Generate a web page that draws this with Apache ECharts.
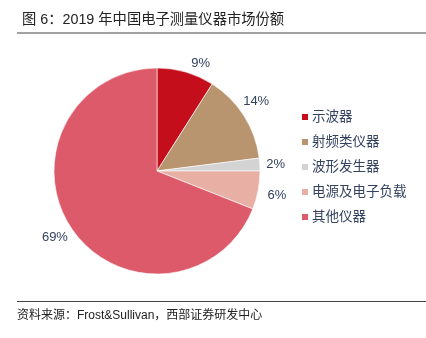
<!DOCTYPE html>
<html>
<head>
<meta charset="utf-8">
<script src="https://cdn.jsdelivr.net/npm/echarts@6/dist/echarts.min.js"></script>
<style>
  html, body { margin: 0; padding: 0; background: #fff; }
  #chart { width: 426px; height: 338px; }
</style>
</head>
<body>
<div id="chart"></div>
<script>
// 2019 market share of electronic measurement instruments in China
const categories = ['示波器', '射频类仪器', '波形发生器', '电源及电子负载', '其他仪器'];
const shares = [9, 14, 2, 6, 69];
const sliceColors = ['#c40e1c', '#b9956f', '#d3d3d3', '#e8b0a5', '#dc5a6a'];
// small per-slice shifts of the percentage labels, in px
const labelNudge = [[10, 9], [-3, -5], [-2, 1], [1, 2], [-2, -2]];

const titleText = '图 6：2019 年中国电子测量仪器市场份额';
const sourceText = '资料来源：Frost&Sullivan，西部证券研发中心';

const FONT = '"Liberation Sans", Arial, "Noto Sans CJK SC", sans-serif';
const LABEL_COLOR = '#34425f';

const pieData = categories.map((name, i) => ({ name, value: shares[i] }));
const labelData = pieData.map((d, i) => ({
  name: d.name,
  value: d.value,
  label: { offset: labelNudge[i] }
}));

const chart = echarts.init(document.getElementById('chart'), null, { renderer: 'canvas' });

chart.setOption({
  animation: false,
  color: sliceColors,
  title: {
    text: titleText,
    left: 17,
    top: 8,
    textStyle: { fontFamily: FONT, fontSize: 14.3, fontWeight: 'normal', color: '#222' }
  },
  legend: {
    orient: 'vertical',
    left: 295,
    top: 105,
    itemWidth: 8,
    itemHeight: 8,
    itemGap: 11,
    icon: 'rect',
    data: categories,
    textStyle: { fontFamily: FONT, fontSize: 13.5, color: LABEL_COLOR, lineHeight: 14, padding: [0, 0, 0, -2] }
  },
  graphic: [
    { type: 'line', shape: { x1: 17, y1: 33, x2: 426, y2: 33 }, style: { stroke: '#444', lineWidth: 1 } },
    { type: 'line', shape: { x1: 17, y1: 301.5, x2: 426, y2: 301.5 }, style: { stroke: '#444', lineWidth: 1 } },
    {
      type: 'text', left: 17, top: 310,
      style: { text: sourceText, font: '12px ' + FONT, fill: '#222' }
    }
  ],
  series: [
    {
      // the slices
      type: 'pie',
      center: [157, 171],
      radius: [0, 103],
      startAngle: 90,
      clockwise: true,
      label: { show: false },
      labelLine: { show: false },
      itemStyle: { borderColor: '#fff', borderWidth: 0.6 },
      data: pieData
    },
    {
      // invisible ring whose inside labels carry the percentages
      type: 'pie',
      center: [157, 171],
      radius: [106, 130],
      startAngle: 90,
      clockwise: true,
      silent: true,
      itemStyle: { color: 'rgba(0,0,0,0)' },
      emphasis: { disabled: true },
      label: {
        show: true,
        position: 'inside',
        formatter: '{c}%',
        fontFamily: FONT,
        fontSize: 13,
        color: LABEL_COLOR
      },
      labelLine: { show: false },
      data: labelData
    }
  ]
});
</script>
</body>
</html>
